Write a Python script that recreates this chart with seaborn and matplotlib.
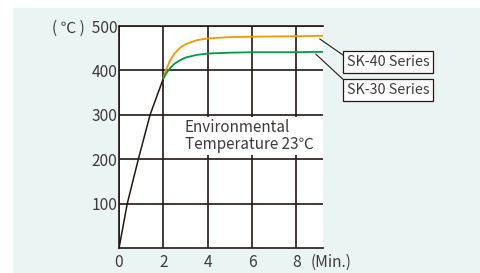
import matplotlib
matplotlib.use("Agg")
import numpy as np
import pandas as pd
import matplotlib.pyplot as plt
import seaborn as sns
from matplotlib.patches import Rectangle

# ----------------------------------------------------------------------------
# Data
# ----------------------------------------------------------------------------
rise_min = [0, 0.37, 0.87, 1.4, 2.0]
rise_temp = [0, 100, 200, 300, 382]

series_min = [2.0, 2.15, 2.3, 2.5, 2.75, 3.0, 3.5, 4.0, 5.0, 6.0, 8.0, 9.2]
sk40_temp = [382, 405, 422, 438, 451, 459, 468, 472, 475, 476, 477, 478]
sk30_temp = [382, 395, 405, 415, 423, 429, 435, 438, 440, 441, 441, 442]

x_ticks = [0, 2, 4, 6, 8]
y_ticks = [100, 200, 300, 400, 500]
y_labels = ["100", "200", "300", "400", "( ℃ )  500"]

DARK = "#231815"
ORANGE = "#f39800"
GREEN = "#009944"
BG = "#eaf4f3"
TXT = "#3e3a39"

sns.set_style("white")
plt.rcParams["font.family"] = ["Noto Sans CJK JP", "DejaVu Sans"]

fig = plt.figure(figsize=(4.8, 2.73), dpi=100)
fig.patches.append(Rectangle((13 / 480, 0), 1, 265 / 273, transform=fig.transFigure,
                             facecolor=BG, edgecolor="none", zorder=-10))

ax = fig.add_axes([119 / 480, (273 - 248.3) / 273, 204 / 480, 222.3 / 273])
ax.set_facecolor("white")

rise = pd.DataFrame({"min": rise_min, "temp": rise_temp})
sk = pd.DataFrame({"min": series_min, "sk40": sk40_temp, "sk30": sk30_temp})

sns.lineplot(data=rise, x="min", y="temp", color=DARK, lw=1.1, ax=ax, zorder=3)
sns.lineplot(data=sk, x="min", y="sk40", color=ORANGE, lw=1.3, ax=ax, zorder=3)
sns.lineplot(data=sk, x="min", y="sk30", color=GREEN, lw=1.3, ax=ax, zorder=3)

ax.set_xlim(0, 9.2)
ax.set_ylim(0, 500)
ax.set_xticks(x_ticks)
ax.set_yticks(y_ticks)
ax.set_yticklabels(y_labels)
ax.set_xlabel("")
ax.set_ylabel("")
ax.grid(True, color=DARK, lw=1.2)
ax.set_axisbelow(True)
ax.tick_params(length=0, labelsize=11.2, labelcolor=TXT)
ax.tick_params(axis="x", pad=4)
ax.tick_params(axis="y", pad=1)
for side in ["left", "bottom", "top"]:
    ax.spines[side].set_color(DARK)
    ax.spines[side].set_linewidth(1.2)
ax.spines["right"].set_visible(False)

ax.annotate("(Min.)", xy=(8, 0), xycoords=("data", "axes fraction"),
            xytext=(10.5, -4), textcoords="offset points", ha="left", va="top",
            fontsize=11.2, color=TXT)

ax.text(2.97, 290, "Environmental\nTemperature 23℃", ha="left", va="top",
        fontsize=11, color=TXT, linespacing=0.95, zorder=4,
        bbox=dict(facecolor="white", edgecolor="none", pad=1.5))

box = dict(boxstyle="square,pad=0.25", facecolor="white", edgecolor=DARK, lw=0.9)
ax.annotate("SK-40 Series", xy=(9.05, 471), xycoords="data",
            xytext=(347, 273 - 62), textcoords="figure pixels", ha="left", va="center",
            fontsize=10.3, color=TXT, bbox=box, annotation_clip=False,
            arrowprops=dict(arrowstyle="-", color=DARK, lw=0.8, relpos=(0, 0.8),
                            shrinkA=0, shrinkB=0))
ax.annotate("SK-30 Series", xy=(8.87, 437), xycoords="data",
            xytext=(347, 273 - 90), textcoords="figure pixels", ha="left", va="center",
            fontsize=10.3, color=TXT, bbox=box, annotation_clip=False,
            arrowprops=dict(arrowstyle="-", color=DARK, lw=0.8, relpos=(0, 1.0),
                            shrinkA=0, shrinkB=0))

fig.savefig("out.png", dpi=100, facecolor="white")
